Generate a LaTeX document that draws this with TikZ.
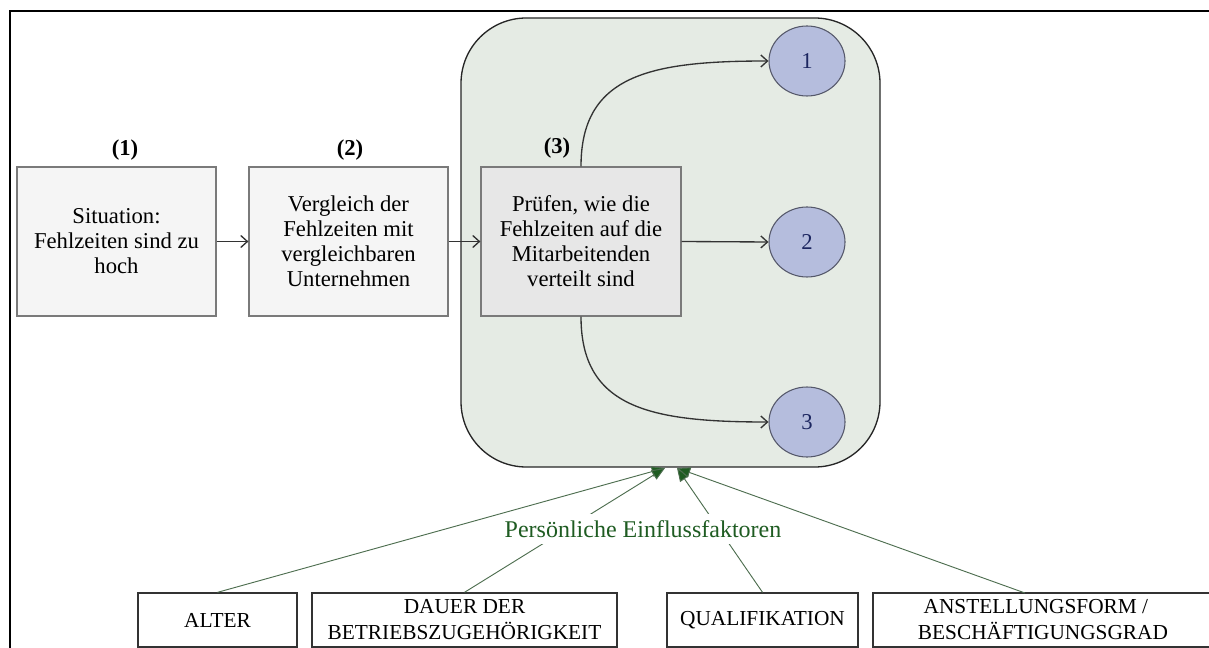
\documentclass[tikz,border=0pt]{standalone}
\usepackage{fontspec}
\setmainfont{Liberation Serif}
\usetikzlibrary{arrows.meta,shapes.geometric,calc}
\definecolor{boxfill}{HTML}{F5F5F5}
\definecolor{boxthreefill}{HTML}{E7E7E7}
\definecolor{boxline}{HTML}{7A7A7A}
\definecolor{grpfill}{HTML}{E5EBE4}
\definecolor{circfill}{HTML}{B5BDDD}
\definecolor{circline}{HTML}{55586A}
\definecolor{numcol}{HTML}{1C2660}
\definecolor{dgreen}{HTML}{1F5C22}
\definecolor{lgreen}{HTML}{4E6E50}
\tikzset{
  stepbox/.style={draw=boxline, line width=0.9pt, fill=boxfill, align=center,
    minimum width=149.25pt, minimum height=111.75pt, inner sep=0pt,
    font=\fontsize{17}{18.75}\selectfont},
  steplabel/.style={font=\fontsize{17}{20}\selectfont\bfseries},
  outcome/.style={ellipse, draw=circline, line width=0.8pt, fill=circfill,
    minimum width=57pt, minimum height=52.5pt, inner sep=0pt, text=numcol,
    font=\fontsize{17}{20}\selectfont},
  factor/.style={draw=black!80, line width=1pt, fill=white, align=center,
    minimum height=40.5pt, inner sep=0pt, font=\fontsize{16}{19.5}\selectfont},
  conn/.style={draw=black!80, line width=1pt, -{Straight Barb[length=5pt,width=9pt]}},
  infl/.style={draw=lgreen, line width=0.7pt, -{Triangle[length=10pt,width=8pt,fill=dgreen]}},
}
\begin{document}
\begin{tikzpicture}[x=0.75pt,y=-0.75pt]
\useasboundingbox (0,0) rectangle (1209,648);
\begin{scope}
\clip (0,0) rectangle (1209,648);
% frame
\draw[line width=1.6pt, black] (10,648) -- (10,11) -- (1215,11);

% group box
\node[draw=black!85, line width=1pt, fill=grpfill, rounded corners=49pt,
  minimum width=314.25pt, minimum height=336.75pt, inner sep=0pt] (grp) at (670.5,242.5) {};

% step boxes
\node[stepbox] (b1) at (116.5,241.5) {Situation:\\Fehlzeiten sind zu\\hoch};
\node[stepbox] (b2) at (348.5,241.5) {Vergleich der\\Fehlzeiten mit\\vergleichbaren\\Unternehmen};
\node[stepbox, fill=boxthreefill, minimum width=150pt] (b3) at (581,241.5) {Prüfen, wie die\\Fehlzeiten auf die\\Mitarbeitenden\\verteilt sind};

\node[steplabel] (l1) at (125,150) {(1)};
\node[steplabel] (l2) at (350,150) {(2)};
\node[steplabel] (l3) at (557,148) {(3)};

% outcomes
\node[outcome] (c1) at (807,61) {1};
\node[outcome] (c2) at (807,242) {2};
\node[outcome] (c3) at (807,422) {3};

% connectors
\draw[conn] (b1.east) -- (b2.west);
\draw[conn] (b2.east) -- (b3.west);
\draw[conn] (b3.east) -- (c2.west);
\draw[conn] (b3.north) .. controls (581,75) and (650,61) .. (c1.west);
\draw[conn] (b3.south) .. controls (581,408) and (650,422) .. (c3.west);

% factor boxes
\node[factor, minimum width=119.25pt] (alter) at (217.5,620) {ALTER};
\node[factor, minimum width=228.75pt] (dauer) at (464.5,620) {DAUER DER\\BETRIEBSZUGEHÖRIGKEIT};
\node[factor, minimum width=143.25pt] (qual) at (762.5,620) {QUALIFIKATION};
\node[factor, minimum width=255pt] (anst) at (1043,620) {ANSTELLUNGSFORM /\hphantom{II}\\BESCHÄFTIGUNGSGRAD};

\coordinate (tl) at (665,468);
\coordinate (tr) at (677,468);
\coordinate (anstop) at (1025,593);

\draw[infl] (alter.north) -- (tl);
\draw[infl] (dauer.north) -- (tl);
\draw[infl] (qual.north) -- (tr);
\draw[infl] (anstop) -- (tr);

\node[fill=white, inner xsep=3pt, inner ysep=5pt, text=dgreen,
  font=\fontsize{18}{21}\selectfont] (pe) at (643,529) {Persönliche Einflussfaktoren};
\end{scope}
\end{tikzpicture}
\end{document}
